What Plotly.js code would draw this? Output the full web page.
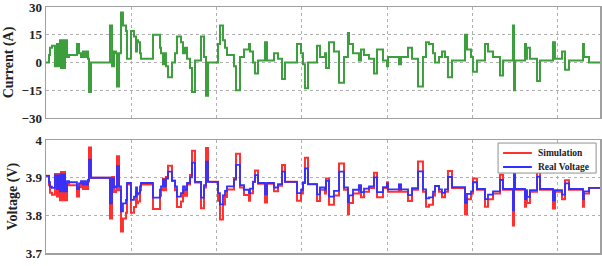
<!DOCTYPE html>
<html>
<head>
<meta charset="utf-8">
<script src="https://cdn.plot.ly/plotly-3.0.1.min.js"></script>
<style>html,body{margin:0;padding:0;background:#fff;}#chart{width:602px;height:266px;}</style>
</head>
<body>
<div id="chart"></div>
<script>
// Time (s) at which each step starts
const timeS = [0,35,47,70,105,129,141,164,176,199,211,223,246,270,363,387,410,434,445,469,492,504,527,
  750,774,797,820,832,856,879,902,938,949,996,1031,1055,1067,1078,1102,1113,1254,1336,1348,1371,1383,1406,1430,1477,1512,1535,1582,1606,1629,1653,1688,1711,1746,
  1817,1852,1875,1899,2016,2039,2074,2098,2121,2203,2227,2274,2321,2379,2391,2426,2449,2485,2567,2590,2672,2719,2766,2801,2942,
  2989,3012,3035,3071,3176,3211,3270,3282,3317,3375,3434,3493,3539,3551,3598,3668,3692,3727,3786,3844,3879,
  3950,3997,4008,4137,4161,4243,4290,4360,4418,4454,4489,4536,4559,4606,4641,4676,4711,4758,4911,4934,
  4981,5004,5051,5145,5180,5239,5321,5356,5473,5485,5497,5614,5626,5637,5672,5755,5790,5942,5965,6048,6083,6130,6294,6305,6364,6493];

// Current (A)
const currentA = [0,4,8,9,-2,10,-2,12,-3,12,-3,12,3,4,10,5,3,6,3,6,2,-16,0,
  20,-2,6,5,-13,5,27,20,17,2,17,14,6,12,11,5,2,15,8,5,-1,5,-2,-8,0,5,14,11,5,8,2,-3,-16,1,
  14,3,-18,0,10,20,12,8,4,-2,-15,3,7,10,6,0,-6,1,11,1,5,2,-9,0,10,
  5,-1,-14,0,9,3,5,-3,11,6,-11,3,16,10,5,1,7,4,2,-6,7,
  1,-2,3,-1,3,8,2,-13,3,11,10,5,0,3,6,3,-8,1,15,7,
  3,-5,1,10,6,3,-7,1,20,-15,1,10,2,8,2,-10,1,11,2,6,-4,1,10,3,0,0];

// Simulated voltage (V)
const simV = [3.905,3.880,3.860,3.855,3.910,3.850,3.910,3.840,3.915,3.840,3.915,3.840,3.885,3.880,3.850,3.875,3.885,3.870,3.885,3.870,3.890,3.980,3.900,
  3.792,3.902,3.862,3.867,3.957,3.867,3.757,3.792,3.807,3.882,3.807,3.822,3.862,3.832,3.837,3.867,3.882,3.817,3.852,3.867,3.897,3.867,3.902,3.932,3.892,3.867,3.822,3.837,3.867,3.852,3.882,3.907,3.972,3.887,
  3.819,3.874,3.979,3.889,3.839,3.789,3.829,3.849,3.869,3.899,3.964,3.874,3.854,3.839,3.859,3.889,3.919,3.884,3.834,3.884,3.864,3.879,3.934,3.889,3.839,
  3.858,3.888,3.953,3.883,3.838,3.868,3.858,3.898,3.828,3.853,3.938,3.868,3.803,3.833,3.858,3.878,3.848,3.863,3.873,3.913,3.848,
  3.873,3.888,3.863,3.883,3.863,3.838,3.868,3.943,3.863,3.823,3.828,3.853,3.878,3.863,3.848,3.863,3.918,3.873,3.803,3.843,
  3.858,3.898,3.868,3.823,3.843,3.858,3.908,3.868,3.773,3.948,3.868,3.823,3.863,3.833,3.863,3.923,3.868,3.818,3.863,3.843,3.893,3.868,3.823,3.858,3.873,3.873];

// Measured (real) voltage (V)
const realV = [3.905,3.888,3.876,3.873,3.906,3.870,3.906,3.864,3.909,3.864,3.909,3.864,3.891,3.888,3.870,3.885,3.891,3.882,3.891,3.882,3.894,3.948,3.900,
  3.832,3.898,3.874,3.877,3.931,3.877,3.811,3.832,3.841,3.886,3.841,3.850,3.874,3.856,3.859,3.877,3.886,3.847,3.868,3.877,3.895,3.877,3.898,3.916,3.892,3.877,3.850,3.859,3.877,3.868,3.886,3.901,3.940,3.889,
  3.847,3.880,3.943,3.889,3.859,3.829,3.853,3.865,3.877,3.895,3.934,3.880,3.868,3.859,3.871,3.889,3.907,3.886,3.856,3.886,3.874,3.883,3.916,3.889,3.859,
  3.868,3.886,3.925,3.883,3.856,3.874,3.868,3.892,3.850,3.865,3.916,3.874,3.835,3.853,3.868,3.880,3.862,3.871,3.877,3.901,3.862,
  3.875,3.884,3.869,3.881,3.869,3.854,3.872,3.917,3.869,3.845,3.848,3.863,3.878,3.869,3.860,3.869,3.902,3.875,3.833,3.857,
  3.864,3.888,3.870,3.843,3.855,3.864,3.894,3.870,3.813,3.918,3.870,3.843,3.867,3.849,3.867,3.903,3.870,3.840,3.867,3.855,3.885,3.870,3.843,3.864,3.873,3.873];

const currentTicks = [-30,-15,0,15,30];
const voltageTicks = [3.7,3.8,3.9,4];
const voltageTickText = ['3.7','3.8','3.9','4'];
const seriesNames = ['Simulation','Real Voltage'];
const seriesColors = ['#ff3030','#3030ff'];

const serifFamily = '"Liberation Serif", "Times New Roman", serif';
const serif = {family:serifFamily, size:13, color:'#222', weight:'bold'};
const titleFont = {family:serifFamily, size:14, color:'#222', weight:'bold'};
const frame = {showline:true, mirror:true, linecolor:'#a0a0a0', linewidth:1.5, zeroline:false,
  showgrid:true, gridcolor:'#b0b0b0', griddash:'dot', gridwidth:1, ticks:'', ticklabeloverflow:'allow'};

const traces = [
  {x:timeS, y:currentA, type:'scatter', mode:'lines', line:{shape:'hv', color:'#3c9e3c', width:2}, showlegend:false, xaxis:'x', yaxis:'y'},
  {x:timeS, y:simV, type:'scatter', mode:'lines', name:seriesNames[0], line:{shape:'hv', color:seriesColors[0], width:2}, showlegend:false, xaxis:'x2', yaxis:'y2'},
  {x:timeS, y:realV, type:'scatter', mode:'lines', name:seriesNames[1], line:{shape:'hv', color:seriesColors[1], width:1.8}, showlegend:false, xaxis:'x2', yaxis:'y2'}
];

// Compact legend box (paper coordinates)
const lg = {x0:0.816, x1:0.993, y0:0.325, y1:0.447, rows:[0.4065, 0.3496], lineX:[0.825, 0.877], textX:0.884};
const shapes = [
  {type:'rect', xref:'paper', yref:'paper', x0:lg.x0, x1:lg.x1, y0:lg.y0, y1:lg.y1, fillcolor:'#fff', line:{color:'#909090', width:1}, layer:'above'}
];
const annotations = [];
seriesNames.forEach((name, i) => {
  shapes.push({type:'line', xref:'paper', yref:'paper', x0:lg.lineX[0], x1:lg.lineX[1], y0:lg.rows[i], y1:lg.rows[i], line:{color:seriesColors[i], width:2}, layer:'above'});
  annotations.push({xref:'paper', yref:'paper', x:lg.textX, y:lg.rows[i], xanchor:'left', yanchor:'middle', showarrow:false, text:name,
    font:{family:serifFamily, size:9.5, color:'#222', weight:'bold'}});
});

const layout = {
  width:602, height:266,
  margin:{l:46, r:2, t:7, b:13},
  paper_bgcolor:'#fff', plot_bgcolor:'#fff',
  showlegend:false,
  shapes:shapes, annotations:annotations,
  xaxis:Object.assign({}, frame, {domain:[0,1], range:[0,6493], tick0:0, dtick:1000, showticklabels:false, anchor:'y'}),
  yaxis:Object.assign({}, frame, {domain:[0.549,1], range:[-30,30], tickvals:currentTicks, tickfont:serif, anchor:'x',
    title:{text:'Current (A)', font:titleFont, standoff:4}}),
  xaxis2:Object.assign({}, frame, {domain:[0,1], range:[0,6493], tick0:0, dtick:1000, showticklabels:false, anchor:'y2'}),
  yaxis2:Object.assign({}, frame, {domain:[0,0.459], range:[3.7,4], tickvals:voltageTicks, ticktext:voltageTickText, tickfont:serif, anchor:'x2',
    title:{text:'Voltage (V)', font:titleFont, standoff:4}})
};

Plotly.newPlot('chart', traces, layout, {staticPlot:true, displayModeBar:false});
</script>
</body>
</html>
